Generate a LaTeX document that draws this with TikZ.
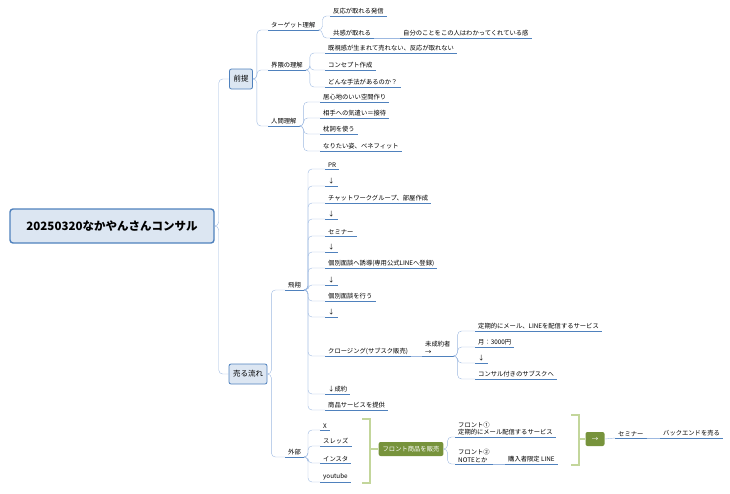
\documentclass[tikz,border=0pt]{standalone}
\usepackage{fontspec}
\setmainfont{Noto Sans CJK JP}
\usetikzlibrary{positioning}
\definecolor{lineblue}{HTML}{4F81BD}
\definecolor{linkblue}{HTML}{9DB9E1}
\definecolor{boxfill}{HTML}{DCE6F2}
\definecolor{olive}{HTML}{77933C}
\definecolor{brk}{HTML}{C3D69B}
\tikzset{
	leaf/.style={anchor=south west,inner xsep=3pt,inner ysep=1.5pt,align=left,
		font=\fontsize{6.3}{7.5}\selectfont,
		append after command={(\tikzlastnode.south west) edge[lineblue,thick] (\tikzlastnode.south east)}},
	topic/.style={draw=lineblue,fill=boxfill,rounded corners=2pt,thick,font=\fontsize{7.5}{8}\selectfont,
		minimum height=20pt,inner xsep=4pt},
	link/.style={linkblue,rounded corners=4pt},
	green box/.style={fill=olive,rounded corners=2pt,text=white,font=\fontsize{6.3}{7}\selectfont\itshape,
		minimum height=14pt,inner xsep=4pt},
	bracket/.style={brk,line width=1.6pt},
}
\newcommand{\link}[2]{\draw[link] (#1.south east) -- ++(4,0) |- (#2.south west);}
\begin{document}
\begin{tikzpicture}[x=1pt,y=-1pt]
	\useasboundingbox (0,0) rectangle (730,493);
	% root and main topics
	\node[draw=lineblue,fill=boxfill,rounded corners=3pt,line width=1.4pt,minimum width=204pt,minimum height=34pt,
		font=\fontsize{11.5}{13}\selectfont\bfseries] (root) at (112,226) {20250320なかやんさんコンサル};
	\node[topic] (zentei) at (241,79) {前提};
	\node[topic] (uru) at (248,374) {売る流れ};
	\draw[link] (root.east) -- ++(4,0) |- (zentei.west);
	\draw[link] (root.east) -- ++(4,0) |- (uru.west);

	% 前提
	\node[leaf] (target) at (268,30) {ターゲット理解};
	\node[leaf] (kaiwai) at (268,70) {界隈の理解};
	\node[leaf] (ningen) at (268,126) {人間理解};
	\foreach \c in {target,kaiwai,ningen}
		\draw[link] (zentei.east) -- ++(4,0) |- (\c.south west);

	\node[leaf] (hanno) at (330,16) {反応が取れる発信};
	\node[leaf] (kyokan) at (330,38) {共感が取れる};
	\node[leaf] (jibun) at (400,38) {自分のことをこの人はわかってくれている感};
	\link{target}{hanno}
	\link{target}{kyokan}
	\draw[link] (kyokan.south east) -- (jibun.south west);

	\node[leaf] (kishi) at (325,53) {既視感が生まれて売れない、反応が取れない};
	\node[leaf] (concept) at (325,70) {コンセプト作成};
	\node[leaf] (shuho) at (325,87) {どんな手法があるのか？};
	\foreach \c in {kishi,concept,shuho} {\link{kaiwai}{\c}}

	\node[leaf] (igokochi) at (320,102) {居心地のいい空間作り};
	\node[leaf] (kizukai) at (320,118) {相手への気遣い＝接待};
	\node[leaf] (makura) at (320,134) {枕詞を使う};
	\node[leaf] (naritai) at (320,151) {なりたい姿、ベネフィット};
	\foreach \c in {igokochi,kizukai,makura,naritai} {\link{ningen}{\c}}

	% 売る流れ
	\node[leaf] (hisho) at (285,290) {飛翔};
	\node[leaf] (gaibu) at (285,457) {外部};
	\foreach \c in {hisho,gaibu}
		\draw[link] (uru.east) -- ++(4,0) |- (\c.south west);

	\foreach \n/\y/\t in {pr/169/PR, a1/186/↓, chat/203/チャットワークグループ、部屋作成, a2/219/↓,
		semi/236/セミナー, a3/252/↓, yudo/268/個別面談へ誘導(専用公式LINEへ登録), a4/285/↓,
		kobetsu/301/個別面談を行う, a5/317/↓, closing/356/クロージング(サブスク販売),
		seiyaku/394/↓成約, teikyo/410/商品サービスを提供}{
		\node[leaf] (\n) at (325,\y) {\t};
		\link{hisho}{\n}
	}

	\node[leaf] (miseiyaku) at (422,356) {未成約者\\→};
	\draw[link] (closing.south east) -- (miseiyaku.south west);
	\foreach \n/\y/\t in {teiki/331/定期的にメール、LINEを配信するサービス, tsuki/347/月：3000円,
		a6/363/↓, subsc/379/コンサル付きのサブスクへ}{
		\node[leaf] (\n) at (475,\y) {\t};
		\link{miseiyaku}{\n}
	}

	% 外部
	\foreach \n/\y/\t in {x/430/X, threads/446/スレッズ, insta/463/インスタ, yt/482/youtube}{
		\node[leaf] (\n) at (320,\y) {\t};
		\link{gaibu}{\n}
	}
	\draw[bracket] (362,419) -- (370,419) -- (370,483) -- (362,483);
	\node[green box] (front) at (411,449) {フロント商品を販売};
	\draw[bracket] (370,449) -- (front.west);
	\node[leaf] (front1) at (455,437) {フロント①\\定期的にメール配信するサービス};
	\node[leaf] (front2) at (455,464) {フロント②\\NOTEとか};
	\node[leaf] (konyu) at (505,464) {購入者限定 LINE};
	\foreach \c in {front1,front2}
		\draw[link] (front.east) -- ++(4,0) |- (\c.south west);
	\draw[link] (front2.south east) -- (konyu.south west);
	\draw[bracket] (571,415) -- (579,415) -- (579,465) -- (571,465);
	\node[green box,font=\fontsize{6.5}{7}\selectfont,minimum width=19pt] (arrow) at (595,439) {→};
	\draw[bracket] (579,439) -- (arrow.west);
	\node[leaf] (seminar) at (615,438) {セミナー};
	\node[leaf] (backend) at (660,438) {バックエンドを売る};
	\draw[link] (arrow.east) -- (seminar.south west);
	\draw[link] (seminar.south east) -- (backend.south west);
\end{tikzpicture}
\end{document}
